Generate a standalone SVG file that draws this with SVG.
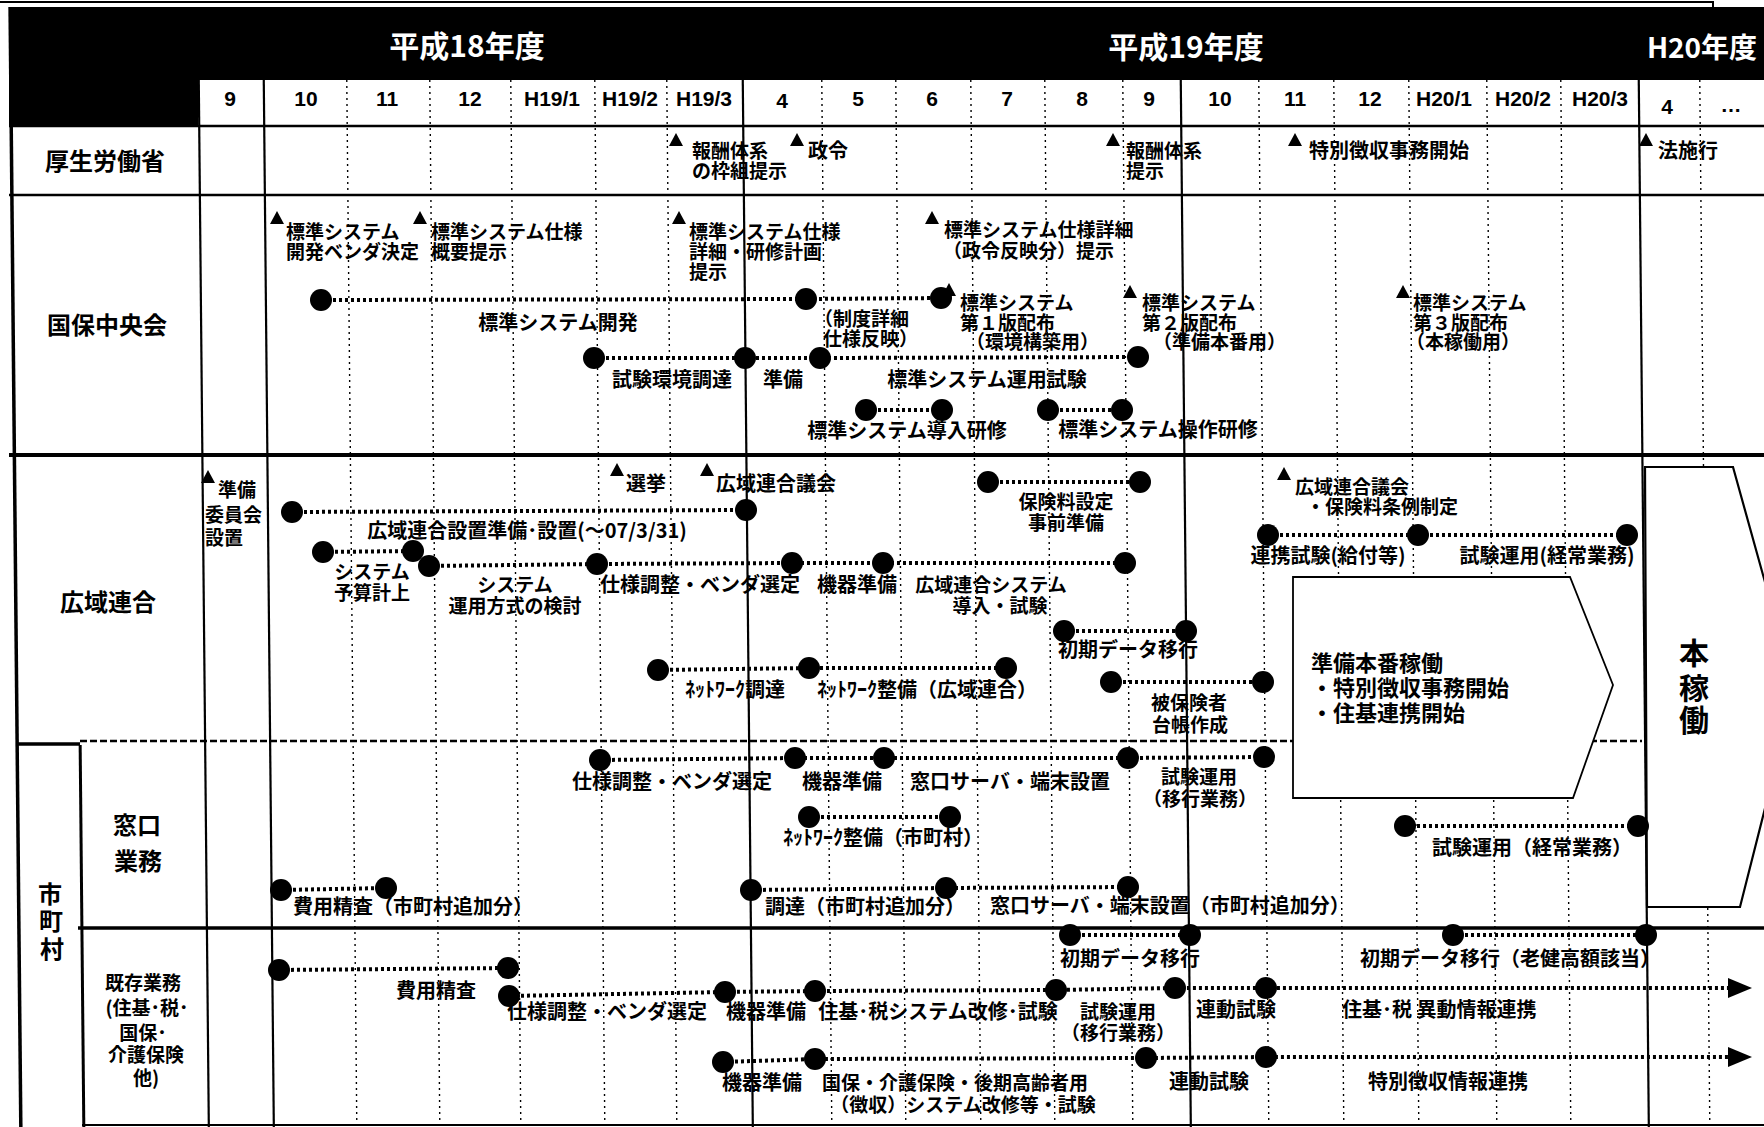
<svg xmlns="http://www.w3.org/2000/svg" width="1764" height="1127" viewBox="0 0 1764 1127">
<defs>
<style>
text{font-family:"Noto Sans CJK JP","Noto Sans CJK SC",sans-serif;font-weight:bold;fill:#000;font-size:20px}
.t{font-size:19px}
.m{text-anchor:middle}
.rl{font-size:24px;text-anchor:middle}
.sm{font-size:19px;text-anchor:middle}
.mo{font-family:"Liberation Sans",Arial,sans-serif;font-size:21px;text-anchor:middle}
.yr{font-size:30px;fill:#fff;text-anchor:middle}
.bx{font-size:22px}
.hk{font-size:30px;text-anchor:middle}
.g{stroke:#000;stroke-width:1.4;stroke-dasharray:2 4;fill:none}
.s{stroke:#000;stroke-width:2.2;fill:none}
.cn{stroke:#000;stroke-width:4;stroke-dasharray:3 3;fill:none}
.ar{marker-end:url(#ah)}
.d{fill:#000}
.tri{fill:#000}
</style>
<marker id="ah" viewBox="0 0 24 20" refX="0" refY="10" markerWidth="24" markerHeight="20" orient="auto" markerUnits="userSpaceOnUse"><path d="M0,0 L24,10 L0,20 z" fill="#000"/></marker>
</defs>
<rect width="1764" height="1127" fill="#fff"/>
<path d="M0,2 H1713 V7" stroke="#000" stroke-width="2" fill="none"/>
<g id="header">
<rect x="9" y="7" width="1755" height="73" fill="#000"/>
<rect x="9" y="80" width="189" height="46" fill="#000"/>
<text class="yr" x="467" y="57">平成18年度</text>
<text class="yr" x="1186" y="58">平成19年度</text>
<text class="yr" x="1702" y="58" style="font-size:28px">H20年度</text>
</g>
<g id="grid" transform="skewX(0.55)">
<g class="g">
<line x1="346" y1="80" x2="346" y2="1127"/>
<line x1="429" y1="80" x2="429" y2="1127"/>
<line x1="510" y1="80" x2="510" y2="1127"/>
<line x1="594" y1="80" x2="594" y2="1127"/>
<line x1="666" y1="80" x2="666" y2="1127"/>
<line x1="821" y1="80" x2="821" y2="1127"/>
<line x1="895" y1="80" x2="895" y2="1127"/>
<line x1="970" y1="80" x2="970" y2="1127"/>
<line x1="1044" y1="80" x2="1044" y2="1127"/>
<line x1="1122" y1="80" x2="1122" y2="1127"/>
<line x1="1258" y1="80" x2="1258" y2="1127"/>
<line x1="1333" y1="80" x2="1333" y2="1127"/>
<line x1="1408" y1="80" x2="1408" y2="1127"/>
<line x1="1486" y1="80" x2="1486" y2="1127"/>
<line x1="1560" y1="80" x2="1560" y2="1127"/>
<line x1="1699" y1="80" x2="1699" y2="1127"/>
</g>
<g class="s">
<line x1="198" y1="80" x2="198" y2="1127"/>
<line x1="263" y1="80" x2="263" y2="1127"/>
<line x1="742" y1="80" x2="742" y2="1127"/>
<line x1="1180" y1="80" x2="1180" y2="1127"/>
<line x1="1638" y1="80" x2="1638" y2="1127"/>
<line x1="10" y1="7" x2="10" y2="1127" stroke-width="3.5"/>
<line x1="73" y1="745" x2="73" y2="1127" stroke-width="3"/>
</g>
</g>
<g id="hlines" stroke="#000" fill="none">
<line x1="9" y1="126" x2="1764" y2="126" stroke-width="2.5"/>
<line x1="9" y1="195" x2="1764" y2="195" stroke-width="2.5"/>
<line x1="9" y1="455" x2="1764" y2="455" stroke-width="4"/>
<line x1="16" y1="744" x2="80" y2="744" stroke-width="3.5"/>
<line x1="80" y1="741" x2="1642" y2="741" stroke-width="2.5" stroke-dasharray="7 3"/>
<line x1="78" y1="928" x2="1764" y2="928" stroke-width="3.5"/>
<line x1="82" y1="1125" x2="1764" y2="1125" stroke-width="2"/>
</g>
<g id="months">
<text class="mo" x="230" y="106">9</text>
<text class="mo" x="306" y="106">10</text>
<text class="mo" x="387" y="106">11</text>
<text class="mo" x="470" y="106">12</text>
<text class="mo" x="552" y="106">H19/1</text>
<text class="mo" x="630" y="106">H19/2</text>
<text class="mo" x="704" y="106">H19/3</text>
<text class="mo" x="782" y="108">4</text>
<text class="mo" x="858" y="106">5</text>
<text class="mo" x="932" y="106">6</text>
<text class="mo" x="1007" y="106">7</text>
<text class="mo" x="1082" y="106">8</text>
<text class="mo" x="1149" y="106">9</text>
<text class="mo" x="1220" y="106">10</text>
<text class="mo" x="1295" y="106">11</text>
<text class="mo" x="1370" y="106">12</text>
<text class="mo" x="1444" y="106">H20/1</text>
<text class="mo" x="1523" y="106">H20/2</text>
<text class="mo" x="1600" y="106">H20/3</text>
<text class="mo" x="1667" y="114">4</text>
<text class="mo" x="1731" y="112">…</text>
</g>
<g id="rowlabels">
<text class="rl" x="105" y="170">厚生労働省</text>
<text class="rl" x="107" y="334">国保中央会</text>
<text class="rl" x="108" y="611">広域連合</text>
<text class="rl" x="137" y="834">窓口</text>
<text class="rl" x="138" y="870">業務</text>
<text class="rl" x="50" y="903">市</text>
<text class="rl" x="51" y="930">町</text>
<text class="rl" x="52" y="958">村</text>
<text class="sm" x="143" y="990">既存業務</text>
<text class="sm" x="147" y="1015">(住基･税･</text>
<text class="sm" x="143" y="1040">国保･</text>
<text class="sm" x="146" y="1062">介護保険</text>
<text class="sm" x="146" y="1085">他)</text>
</g>
<g id="junbi-box">
<polygon points="1293,577 1570,577 1613,685 1573,798 1293,798" fill="#fff" stroke="#000" stroke-width="1.8"/>
<text class="bx" x="1311" y="671">準備本番稼働</text>
<text class="bx" x="1311" y="696">・特別徴収事務開始</text>
<text class="bx" x="1311" y="721">・住基連携開始</text>
</g>
<g id="honkado-box">
<polygon points="1645,467 1733,467 1795,690 1740,907 1647,907" fill="#fff" stroke="#000" stroke-width="2.2"/>
<text class="hk" x="1694" y="664">本</text>
<text class="hk" x="1694" y="699">稼</text>
<text class="hk" x="1694" y="731">働</text>
</g>
<g id="connectors" class="cn">
<polyline points="321,300 806,299 941,298"/>
<polyline points="594,358 745,358 820,358 1138,357"/>
<polyline points="866,410 942,410"/>
<polyline points="1048,410 1122,410"/>
<polyline points="292,512 746,510"/>
<polyline points="323,552 413,551"/>
<polyline points="429,566 597,564 792,563 883,563 1125,563"/>
<polyline points="988,482 1140,482"/>
<polyline points="1268,535 1418,535 1627,535"/>
<polyline points="1064,631 1186,631"/>
<polyline points="658,670 809,668 1006,668"/>
<polyline points="1111,682 1263,682"/>
<polyline points="600,760 795,758 884,758 1128,758 1264,757"/>
<polyline points="809,817 950,817"/>
<polyline points="1405,826 1638,826"/>
<polyline points="281,890 386,888"/>
<polyline points="751,890 946,888 1128,887"/>
<polyline points="1070,935 1190,935"/>
<polyline points="1453,935 1646,935"/>
<polyline points="279,970 508,968"/>
<polyline class="cn ar" points="509,996 725,992 815,991 1056,990 1175,988 1266,988 1728,988"/>
<polyline class="cn ar" points="723,1062 815,1059 1146,1058 1266,1057 1728,1057"/>
</g>
<g id="mhlw">
<path class="tri" d="M676,133 l7,13 h-14z"/>
<text class="t" x="692" y="158">報酬体系</text>
<text class="t" x="692" y="178">の枠組提示</text>
<path class="tri" d="M797,133 l7,13 h-14z"/>
<text x="808" y="158">政令</text>
<path class="tri" d="M1113,133 l7,13 h-14z"/>
<text class="t" x="1126" y="158">報酬体系</text>
<text class="t" x="1126" y="178">提示</text>
<path class="tri" d="M1295,133 l7,13 h-14z"/>
<text x="1309" y="158">特別徴収事務開始</text>
<path class="tri" d="M1646,133 l7,13 h-14z"/>
<text x="1658" y="158">法施行</text>
</g>
<g id="kokuho">
<path class="tri" d="M277,211 l7,13 h-14z"/>
<text class="t" x="286" y="239">標準システム</text>
<text class="t" x="286" y="259">開発ベンダ決定</text>
<path class="tri" d="M420,211 l7,13 h-14z"/>
<text class="t" x="431" y="239">標準システム仕様</text>
<text class="t" x="431" y="259">概要提示</text>
<path class="tri" d="M679,211 l7,13 h-14z"/>
<text class="t" x="689" y="239">標準システム仕様</text>
<text class="t" x="689" y="259">詳細・研修計画</text>
<text class="t" x="689" y="279">提示</text>
<path class="tri" d="M932,211 l7,13 h-14z"/>
<text class="t" x="944" y="237">標準システム仕様詳細</text>
<text class="t" x="943" y="258">（政令反映分）提示</text>
<circle class="d" cx="321" cy="300" r="11"/>
<circle class="d" cx="806" cy="299" r="11"/>
<circle class="d" cx="941" cy="298" r="11"/>
<text class="m" x="558" y="330">標準システム開発</text>
<text class="t" x="814" y="326">（制度詳細</text>
<text class="t" x="823" y="346">仕様反映）</text>
<path class="tri" d="M949,283 l7,13 h-14z"/>
<text class="t" x="960" y="310">標準システム</text>
<text class="t" x="960" y="330">第１版配布</text>
<text class="t" x="966" y="349">（環境構築用）</text>
<circle class="d" cx="594" cy="358" r="11"/>
<circle class="d" cx="745" cy="358" r="11"/>
<circle class="d" cx="820" cy="358" r="11"/>
<circle class="d" cx="1138" cy="357" r="11"/>
<text class="m" x="672" y="387">試験環境調達</text>
<text class="m" x="783" y="387">準備</text>
<text class="m" x="987" y="387">標準システム運用試験</text>
<circle class="d" cx="866" cy="410" r="11"/>
<circle class="d" cx="942" cy="410" r="11"/>
<text class="m" x="907" y="438">標準システム導入研修</text>
<circle class="d" cx="1048" cy="410" r="11"/>
<circle class="d" cx="1122" cy="410" r="11"/>
<text class="m" x="1158" y="437">標準システム操作研修</text>
<path class="tri" d="M1130,285 l7,13 h-14z"/>
<text class="t" x="1142" y="310">標準システム</text>
<text class="t" x="1142" y="330">第２版配布</text>
<text class="t" x="1153" y="349">（準備本番用）</text>
<path class="tri" d="M1403,285 l7,13 h-14z"/>
<text class="t" x="1413" y="310">標準システム</text>
<text class="t" x="1413" y="330">第３版配布</text>
<text class="t" x="1406" y="349">（本稼働用）</text>
</g>
<g id="kouiki">
<path class="tri" d="M208,470 l7,13 h-14z"/>
<text class="t" x="218" y="497">準備</text>
<text class="t" x="205" y="522">委員会</text>
<text class="t" x="205" y="545">設置</text>
<circle class="d" cx="292" cy="512" r="11"/>
<circle class="d" cx="746" cy="510" r="11"/>
<text class="m" x="527" y="538">広域連合設置準備･設置(～07/3/31)</text>
<circle class="d" cx="323" cy="552" r="11"/>
<circle class="d" cx="413" cy="551" r="11"/>
<text class="m t" x="372" y="579">システム</text>
<text class="m t" x="372" y="600">予算計上</text>
<circle class="d" cx="429" cy="566" r="11"/>
<circle class="d" cx="597" cy="564" r="11"/>
<circle class="d" cx="792" cy="563" r="11"/>
<circle class="d" cx="883" cy="563" r="11"/>
<circle class="d" cx="1125" cy="563" r="11"/>
<text class="m t" x="515" y="592">システム</text>
<text class="m t" x="515" y="613">運用方式の検討</text>
<text class="m" x="700" y="592">仕様調整・ベンダ選定</text>
<text class="m" x="857" y="592">機器準備</text>
<text class="m t" x="991" y="592">広域連合システム</text>
<text class="m t" x="1000" y="613">導入・試験</text>
<circle class="d" cx="988" cy="482" r="11"/>
<circle class="d" cx="1140" cy="482" r="11"/>
<text class="m t" x="1066" y="509">保険料設定</text>
<text class="m t" x="1066" y="530">事前準備</text>
<path class="tri" d="M617,463 l7,13 h-14z"/>
<text x="626" y="491">選挙</text>
<path class="tri" d="M707,463 l7,13 h-14z"/>
<text x="716" y="491">広域連合議会</text>
<path class="tri" d="M1284,467 l7,13 h-14z"/>
<text class="t" x="1295" y="494">広域連合議会</text>
<text class="t" x="1306" y="514">・保険料条例制定</text>
<circle class="d" cx="1268" cy="535" r="11"/>
<circle class="d" cx="1418" cy="535" r="11"/>
<circle class="d" cx="1627" cy="535" r="11"/>
<text class="m" x="1328" y="563">連携試験(給付等)</text>
<text class="m" x="1547" y="563">試験運用(経常業務)</text>
<circle class="d" cx="1064" cy="631" r="11"/>
<circle class="d" cx="1186" cy="631" r="11"/>
<text class="m" x="1128" y="657">初期データ移行</text>
<circle class="d" cx="658" cy="670" r="11"/>
<circle class="d" cx="809" cy="668" r="11"/>
<circle class="d" cx="1006" cy="668" r="11"/>
<text class="m" x="735" y="697">ﾈｯﾄﾜｰｸ調達</text>
<text class="m" x="927" y="697">ﾈｯﾄﾜｰｸ整備（広域連合）</text>
<circle class="d" cx="1111" cy="682" r="11"/>
<circle class="d" cx="1263" cy="682" r="11"/>
<text class="m t" x="1189" y="710">被保険者</text>
<text class="m t" x="1190" y="732">台帳作成</text>
</g>
<g id="madoguchi">
<circle class="d" cx="600" cy="760" r="11"/>
<circle class="d" cx="795" cy="758" r="11"/>
<circle class="d" cx="884" cy="758" r="11"/>
<circle class="d" cx="1128" cy="758" r="11"/>
<circle class="d" cx="1264" cy="757" r="11"/>
<text class="m" x="672" y="789">仕様調整・ベンダ選定</text>
<text class="m" x="842" y="789">機器準備</text>
<text class="m" x="1010" y="789">窓口サーバ・端末設置</text>
<text class="m t" x="1199" y="784">試験運用</text>
<text class="m t" x="1200" y="806">（移行業務）</text>
<circle class="d" cx="809" cy="817" r="11"/>
<circle class="d" cx="950" cy="817" r="11"/>
<text class="m" x="883" y="845">ﾈｯﾄﾜｰｸ整備（市町村）</text>
<circle class="d" cx="1405" cy="826" r="11"/>
<circle class="d" cx="1638" cy="826" r="11"/>
<text class="m" x="1532" y="855">試験運用（経常業務）</text>
<circle class="d" cx="281" cy="890" r="11"/>
<circle class="d" cx="386" cy="888" r="11"/>
<text x="293" y="914">費用精査（市町村追加分）</text>
<circle class="d" cx="751" cy="890" r="11"/>
<circle class="d" cx="946" cy="888" r="11"/>
<circle class="d" cx="1128" cy="887" r="11"/>
<text x="765" y="914">調達（市町村追加分）</text>
<text x="990" y="913">窓口サーバ・端末設置（市町村追加分）</text>
</g>
<g id="kizon">
<circle class="d" cx="1070" cy="935" r="11"/>
<circle class="d" cx="1190" cy="935" r="11"/>
<text class="m" x="1130" y="966">初期データ移行</text>
<circle class="d" cx="1453" cy="935" r="11"/>
<circle class="d" cx="1646" cy="935" r="11"/>
<text class="m" x="1510" y="966">初期データ移行（老健高額該当）</text>
<circle class="d" cx="279" cy="970" r="11"/>
<circle class="d" cx="508" cy="968" r="11"/>
<text class="m" x="436" y="998">費用精査</text>
<circle class="d" cx="509" cy="996" r="11"/>
<circle class="d" cx="725" cy="992" r="11"/>
<circle class="d" cx="815" cy="991" r="11"/>
<circle class="d" cx="1056" cy="990" r="11"/>
<circle class="d" cx="1175" cy="988" r="11"/>
<circle class="d" cx="1266" cy="988" r="11"/>
<text class="m" x="607" y="1019">仕様調整・ベンダ選定</text>
<text class="m" x="766" y="1019">機器準備</text>
<text class="m" x="938" y="1019">住基･税システム改修･試験</text>
<text class="m t" x="1118" y="1019">試験運用</text>
<text class="m t" x="1118" y="1040">（移行業務）</text>
<text class="m" x="1236" y="1017">連動試験</text>
<text x="1342" y="1017">住基･税 異動情報連携</text>
<circle class="d" cx="723" cy="1062" r="11"/>
<circle class="d" cx="815" cy="1059" r="11"/>
<circle class="d" cx="1146" cy="1058" r="11"/>
<circle class="d" cx="1266" cy="1057" r="11"/>
<text class="m" x="762" y="1090">機器準備</text>
<text class="m t" x="955" y="1090">国保・介護保険・後期高齢者用</text>
<text class="m t" x="963" y="1112">（徴収）システム改修等・試験</text>
<text class="m" x="1209" y="1089">連動試験</text>
<text class="m" x="1448" y="1089">特別徴収情報連携</text>
</g>
</svg>
